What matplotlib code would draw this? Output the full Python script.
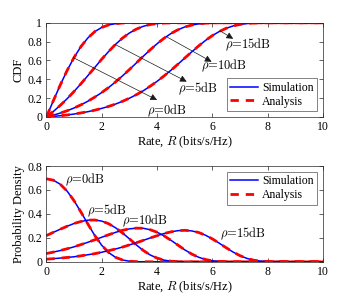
import matplotlib.pyplot as plt
import numpy as np

plt.rcParams['font.family'] = ['Liberation Serif', 'DejaVu Serif']
plt.rcParams['mathtext.fontset'] = 'cm'
plt.rcParams['font.size'] = 8.5

# rate grid (bits/s/Hz)
rate = [0, 0.25, 0.5, 0.75, 1, 1.25, 1.5, 1.75, 2, 2.25, 2.5, 2.75, 3, 3.25, 3.5, 3.75,
        4, 4.25, 4.5, 4.75, 5, 5.25, 5.5, 5.75, 6, 6.25, 6.5, 6.75, 7, 7.25, 7.5, 7.75,
        8, 9, 10]

# CDF
cdf_0dB = [0, .172, .339, .494, .632, .748, .839, .906, .950, .977, .990, .997, .999, 1, 1, 1,
           1, 1, 1, 1, 1, 1, 1, 1, 1, 1, 1, 1, 1, 1, 1, 1, 1, 1, 1]
cdf_5dB = [0, .058, .123, .194, .271, .353, .439, .526, .613, .695, .771, .837, .891, .932, .962, .981,
           .991, .997, .999, 1, 1, 1, 1, 1, 1, 1, 1, 1, 1, 1, 1, 1, 1, 1, 1]
cdf_10dB = [0, .019, .041, .066, .095, .129, .167, .211, .259, .313, .372, .436, .503, .573, .644, .712,
            .777, .835, .885, .925, .955, .975, .988, .995, .998, .999, 1, 1, 1, 1, 1, 1, 1, 1, 1]
cdf_15dB = [0, .006, .013, .021, .031, .043, .056, .072, .091, .112, .137, .166, .199, .236, .278, .326,
            .378, .435, .495, .559, .625, .690, .753, .812, .864, .907, .941, .966, .982, .992, .997, .999,
            1, 1, 1]

# PDF
pdf_0dB = [.693, .682, .648, .590, .510, .415, .315, .219, .138, .077, .037, .015, .005, .001, 0, 0,
           0, 0, 0, 0, 0, 0, 0, 0, 0, 0, 0, 0, 0, 0, 0, 0, 0, 0, 0]
pdf_5dB = [.219, .246, .272, .297, .320, .337, .348, .349, .340, .318, .284, .241, .192, .141, .095, .057,
           .031, .014, .005, .002, 0, 0, 0, 0, 0, 0, 0, 0, 0, 0, 0, 0, 0, 0, 0]
pdf_10dB = [.069, .081, .094, .109, .125, .144, .163, .184, .205, .226, .246, .263, .275, .281, .280, .268,
            .247, .217, .180, .140, .100, .065, .038, .019, .008, .003, .001, 0, 0, 0, 0, 0, 0, 0, 0]
pdf_15dB = [.022, .026, .031, .036, .042, .050, .059, .068, .080, .093, .107, .123, .141, .159, .179, .199,
            .218, .236, .250, .260, .263, .258, .245, .222, .191, .155, .117, .081, .051, .028, .013, .005,
            .002, 0, 0]

snr_labels = ['0dB', '5dB', '10dB', '15dB']
cdfs = [cdf_0dB, cdf_5dB, cdf_10dB, cdf_15dB]
pdfs = [pdf_0dB, pdf_5dB, pdf_10dB, pdf_15dB]

fig = plt.figure(figsize=(3.57, 3.03), dpi=100)
ax1 = fig.add_axes([0.130, 0.614, 0.775, 0.311])
ax2 = fig.add_axes([0.130, 0.136, 0.775, 0.316])

for ax, curves in [(ax1, cdfs), (ax2, pdfs)]:
    for k, y in enumerate(curves):
        ax.plot(rate, y, color='b', lw=1.1, label='Simulation' if k == 0 else None)
        ax.plot(rate, y, color='r', lw=2.0, ls=(0, (3, 2.5)), label='Analysis' if k == 0 else None)
    ax.set_xlim(0, 10)
    ax.set_xticks([0, 2, 4, 6, 8, 10])
    ax.tick_params(direction='in', top=True, right=True, length=3, width=0.5, colors='0.15',
                   labelcolor='k', pad=3)
    for s in ax.spines.values():
        s.set_linewidth(0.5)
        s.set_color('0.15')
    ax.set_xlabel('Rate, $R$ (bits/s/Hz)', fontsize=9, labelpad=1)

ax1.set_ylim(0, 1)
ax1.set_yticks([0, 0.2, 0.4, 0.6, 0.8, 1])
ax1.set_yticklabels(['0', '0.2', '0.4', '0.6', '0.8', '1'])
ax1.set_ylabel('CDF', fontsize=9, labelpad=2)
ax2.set_ylim(0, 0.8)
ax2.set_yticks([0, 0.2, 0.4, 0.6, 0.8])
ax2.set_yticklabels(['0', '0.2', '0.4', '0.6', '0.8'])
ax2.set_ylabel('Probability Density', fontsize=9, labelpad=2)


def rho_label(s):
    return r'$\rho$' + '=' + s


lab = dict(fontfamily='cmr10', fontsize=9, va='center')
arrow = dict(arrowstyle='-|>', lw=0.5, color='0.1', mutation_scale=10, shrinkA=0, shrinkB=0)
ax1.annotate('', xy=(4.0, 0.18), xytext=(0.97, 0.63), arrowprops=arrow)
ax1.annotate('', xy=(5.07, 0.375), xytext=(2.48, 0.77), arrowprops=arrow)
ax1.annotate('', xy=(5.97, 0.586), xytext=(4.35, 0.85), arrowprops=arrow)
ax1.annotate('', xy=(6.75, 0.83), xytext=(6.27, 0.915), arrowprops=arrow)
ax1.text(3.62, 0.07, rho_label(snr_labels[0]), ha='left', **lab)
ax1.text(4.75, 0.30, rho_label(snr_labels[1]), ha='left', **lab)
ax1.text(5.6, 0.54, rho_label(snr_labels[2]), ha='left', **lab)
ax1.text(6.45, 0.77, rho_label(snr_labels[3]), ha='left', **lab)

ax2.text(0.67, 0.683, rho_label(snr_labels[0]), ha='left', **lab)
ax2.text(1.47, 0.426, rho_label(snr_labels[1]), ha='left', **lab)
ax2.text(2.75, 0.34, rho_label(snr_labels[2]), ha='left', **lab)
ax2.text(6.27, 0.237, rho_label(snr_labels[3]), ha='left', **lab)

for ax, loc in [(ax1, 'lower right'), (ax2, 'upper right')]:
    leg = ax.legend(loc=loc, fancybox=False, edgecolor='0.15', handlelength=2.4,
                    borderaxespad=0.5, labelspacing=0.15, handletextpad=0.3, borderpad=0.3)
    leg.get_frame().set_linewidth(0.5)

fig.savefig('out.png', dpi=100)
